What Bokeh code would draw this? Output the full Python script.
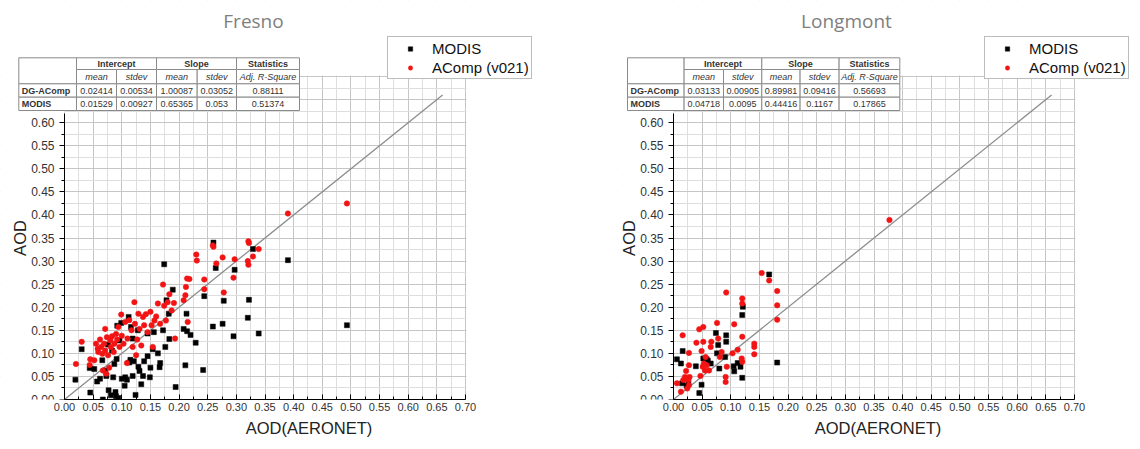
import math
from bokeh.plotting import figure
from bokeh.layouts import row
from bokeh.models import (Range1d, FixedTicker, PrintfTickFormatter, Label,
                          BoxAnnotation, Legend, LegendItem)
from bokeh.embed import file_html
from bokeh.resources import INLINE

# ---------------- data ----------------
titles = ["Fresno", "Longmont"]
x_label = "AOD(AERONET)"
y_label = "AOD"
series_names = ["MODIS", "AComp (v021)"]
one_to_one = [0.0, 0.66]

x_tick_values = [0.00, 0.05, 0.10, 0.15, 0.20, 0.25, 0.30, 0.35, 0.40, 0.45,
                 0.50, 0.55, 0.60, 0.65, 0.70]
x_minor_values = [0.025, 0.075, 0.125, 0.175, 0.225, 0.275, 0.325, 0.375,
                  0.425, 0.475, 0.525, 0.575, 0.625, 0.675]
y_tick_values = [0.00, 0.05, 0.10, 0.15, 0.20, 0.25, 0.30, 0.35, 0.40, 0.45,
                 0.50, 0.55, 0.60]
y_minor_values = [0.025, 0.075, 0.125, 0.175, 0.225, 0.275, 0.325, 0.375,
                  0.425, 0.475, 0.525, 0.575]

table_headers = ["Intercept", "Slope", "Statistics"]
table_subheaders = ["mean", "stdev", "mean", "stdev", "Adj. R-Square"]
table_row_names = ["DG-AComp", "MODIS"]
fresno_table = [["0.02414", "0.00534", "1.00087", "0.03052", "0.88111"],
                ["0.01529", "0.00927", "0.65365", "0.053", "0.51374"]]
longmont_table = [["0.03133", "0.00905", "0.89981", "0.09416", "0.56693"],
                  ["0.04718", "0.0095", "0.44416", "0.1167", "0.17865"]]

fresno_modis = [
    (0.019, 0.043), (0.030, 0.109), (0.045, 0.015), (0.044, 0.068), (0.052, 0.066),
    (0.057, 0.039), (0.062, 0.045), (0.067, 0.000), (0.066, 0.085), (0.071, 0.063),
    (0.073, 0.051), (0.077, 0.020), (0.081, 0.009), (0.083, 0.106), (0.085, 0.048),
    (0.089, 0.016), (0.090, 0.007), (0.094, 0.003), (0.091, 0.088), (0.092, 0.160),
    (0.099, 0.166), (0.100, 0.045), (0.105, 0.030), (0.106, 0.048), (0.109, 0.043),
    (0.112, 0.179), (0.113, 0.080), (0.115, 0.086), (0.119, 0.051), (0.121, 0.083),
    (0.124, 0.010), (0.129, 0.071), (0.131, 0.062), (0.134, 0.033), (0.137, 0.051),
    (0.139, 0.083), (0.145, 0.094), (0.149, 0.048), (0.150, 0.069), (0.156, 0.146),
    (0.154, 0.109), (0.163, 0.100), (0.166, 0.070), (0.167, 0.079), (0.172, 0.150),
    (0.174, 0.293), (0.176, 0.114), (0.178, 0.215), (0.182, 0.186), (0.183, 0.131),
    (0.189, 0.238), (0.194, 0.027), (0.208, 0.153), (0.211, 0.074), (0.213, 0.186),
    (0.214, 0.148), (0.220, 0.140), (0.229, 0.123), (0.242, 0.064), (0.244, 0.224),
    (0.259, 0.158), (0.260, 0.340), (0.264, 0.285), (0.276, 0.164), (0.278, 0.214),
    (0.295, 0.137), (0.297, 0.281), (0.320, 0.177), (0.322, 0.216), (0.329, 0.326),
    (0.339, 0.143), (0.390, 0.302), (0.493, 0.161), (0.076, 0.119), (0.087, 0.077),
    (0.096, 0.128), (0.119, 0.132), (0.128, 0.150), (0.145, 0.143), (0.116, 0.157),
]

fresno_acomp = [
    (0.020, 0.077), (0.030, 0.125), (0.044, 0.075), (0.045, 0.087), (0.052, 0.085),
    (0.055, 0.121), (0.058, 0.110), (0.059, 0.103), (0.062, 0.130), (0.064, 0.114),
    (0.066, 0.099), (0.067, 0.063), (0.069, 0.121), (0.071, 0.153), (0.071, 0.106),
    (0.073, 0.056), (0.074, 0.135), (0.076, 0.096), (0.078, 0.069), (0.080, 0.128),
    (0.081, 0.114), (0.083, 0.137), (0.086, 0.103), (0.087, 0.121), (0.090, 0.142),
    (0.092, 0.130), (0.094, 0.157), (0.096, 0.114), (0.099, 0.184), (0.100, 0.138),
    (0.103, 0.121), (0.106, 0.168), (0.109, 0.079), (0.110, 0.132), (0.113, 0.172),
    (0.117, 0.150), (0.119, 0.114), (0.122, 0.211), (0.123, 0.164), (0.125, 0.096),
    (0.127, 0.130), (0.129, 0.186), (0.131, 0.153), (0.134, 0.117), (0.137, 0.179),
    (0.139, 0.161), (0.142, 0.185), (0.145, 0.146), (0.150, 0.190), (0.152, 0.161),
    (0.154, 0.114), (0.157, 0.171), (0.160, 0.180), (0.163, 0.208), (0.167, 0.164),
    (0.172, 0.249), (0.174, 0.203), (0.177, 0.171), (0.180, 0.211), (0.183, 0.228),
    (0.187, 0.193), (0.191, 0.209), (0.193, 0.132), (0.208, 0.215), (0.211, 0.226),
    (0.212, 0.244), (0.214, 0.262), (0.218, 0.261), (0.215, 0.168), (0.230, 0.314),
    (0.231, 0.301), (0.244, 0.260), (0.244, 0.239), (0.259, 0.334), (0.260, 0.331),
    (0.265, 0.295), (0.276, 0.308), (0.278, 0.232), (0.295, 0.264), (0.297, 0.304),
    (0.320, 0.300), (0.321, 0.292), (0.321, 0.343), (0.322, 0.339), (0.329, 0.310),
    (0.339, 0.326), (0.390, 0.403), (0.493, 0.425),
]

longmont_modis = [
    (0.006, 0.087), (0.013, 0.078), (0.016, 0.105), (0.015, 0.035), (0.023, 0.030),
    (0.026, 0.035), (0.039, 0.072), (0.045, 0.014), (0.049, 0.032), (0.052, 0.089),
    (0.058, 0.087), (0.060, 0.084), (0.065, 0.078), (0.074, 0.144), (0.076, 0.100),
    (0.078, 0.118), (0.080, 0.067), (0.090, 0.092), (0.092, 0.139), (0.092, 0.125),
    (0.105, 0.072), (0.106, 0.061), (0.112, 0.079), (0.117, 0.071), (0.120, 0.183),
    (0.121, 0.201), (0.120, 0.047), (0.167, 0.271), (0.181, 0.080),
]

longmont_acomp = [
    (0.006, 0.035), (0.013, 0.017), (0.016, 0.139), (0.017, 0.042), (0.020, 0.049),
    (0.022, 0.062), (0.024, 0.024), (0.026, 0.042), (0.027, 0.101), (0.027, 0.074),
    (0.027, 0.031), (0.028, 0.049), (0.040, 0.123), (0.045, 0.152), (0.047, 0.051),
    (0.049, 0.105), (0.051, 0.071), (0.052, 0.157), (0.052, 0.125), (0.053, 0.078),
    (0.055, 0.063), (0.056, 0.092), (0.058, 0.074), (0.062, 0.063), (0.065, 0.114),
    (0.066, 0.125), (0.076, 0.166), (0.078, 0.132), (0.081, 0.092), (0.084, 0.103),
    (0.092, 0.232), (0.093, 0.071), (0.091, 0.049), (0.091, 0.038), (0.103, 0.100),
    (0.106, 0.163), (0.112, 0.108), (0.120, 0.219), (0.120, 0.208), (0.120, 0.136),
    (0.119, 0.089), (0.120, 0.082), (0.141, 0.121), (0.141, 0.114), (0.141, 0.098),
    (0.154, 0.274), (0.167, 0.258), (0.181, 0.235), (0.181, 0.204), (0.181, 0.173),
    (0.377, 0.389),
]

# ---------------- layout constants ----------------
AX_END = 0.70            # data extent of the plotting box
PX_X = 401 / AX_END      # pixels per data unit (x)
PX_Y = 323 / AX_END      # pixels per data unit (y)
ORIGIN_Y = 399           # px from figure top to y = 0
FONT = "Liberation Sans"
TXT = "#333333"


def dx(px):
    return px / PX_X


def dy(px):
    return px / PX_Y


def add_table(p, xe, ye, values):
    def cell(l, r, t, b):
        p.add_layout(BoxAnnotation(left=dx(l), right=dx(r), top=dy(t), bottom=dy(b),
                                   fill_color="white", fill_alpha=1.0,
                                   line_color="#8a8a8a", line_alpha=1.0, line_width=1,
                                   level="annotation"))

    def txt(x, y, s, style="normal", align="center"):
        p.add_layout(Label(x=dx(x), y=dy(y), text=s, text_align=align,
                           text_baseline="middle", text_font=FONT,
                           text_font_size="9px", text_font_style=style,
                           text_color=TXT))

    cell(xe[0], xe[1], ye[0], ye[2])
    spans = [(1, 3), (3, 5), (5, 6)]
    for (a, b), h in zip(spans, table_headers):
        cell(xe[a], xe[b], ye[0], ye[1])
        txt((xe[a] + xe[b]) / 2, (ye[0] + ye[1]) / 2, h, "bold")
    for i, s in enumerate(table_subheaders):
        cell(xe[i + 1], xe[i + 2], ye[1], ye[2])
        txt((xe[i + 1] + xe[i + 2]) / 2, (ye[1] + ye[2]) / 2, s, "italic")
    for r, (name, vals) in enumerate(zip(table_row_names, values)):
        t, b = ye[r + 2], ye[r + 3]
        cell(xe[0], xe[1], t, b)
        txt(xe[0] + 3, (t + b) / 2, name, "bold", "left")
        for i, v in enumerate(vals):
            cell(xe[i + 1], xe[i + 2], t, b)
            txt((xe[i + 1] + xe[i + 2]) / 2, (t + b) / 2, v)


def make_panel(title, title_x, modis, acomp, table_vals, xe, width, origin_x, legend_x):
    x0 = -dx(origin_x)
    x1 = dx(width - origin_x)
    y1 = dy(ORIGIN_Y)
    p = figure(frame_width=width, frame_height=ORIGIN_Y, title=None,
               output_backend="svg", toolbar_location=None,
               x_range=Range1d(x0, x1), y_range=Range1d(0, y1),
               min_border_left=0, min_border_right=0,
               min_border_top=0, min_border_bottom=48)
    p.outline_line_color = None
    p.background_fill_color = "white"
    p.border_fill_color = "white"

    xt = FixedTicker(ticks=x_tick_values, minor_ticks=x_minor_values)
    yt = FixedTicker(ticks=y_tick_values, minor_ticks=y_minor_values)
    for ax in (p.xaxis[0], p.yaxis[0]):
        ax.formatter = PrintfTickFormatter(format="%.2f")
        ax.axis_line_color = "black"
        ax.axis_line_width = 1
        ax.major_tick_line_color = "black"
        ax.minor_tick_line_color = "black"
        ax.major_label_text_font = FONT
        ax.major_label_text_color = TXT
        ax.axis_label_text_font = FONT
        ax.axis_label_text_font_style = "normal"
        ax.axis_label_text_font_size = "16.5px"
        ax.axis_label_text_color = "#222222"

    xa = p.xaxis[0]
    xa.ticker = xt
    xa.bounds = (0, AX_END)
    xa.axis_label = x_label
    xa.major_tick_in = 5
    xa.major_tick_out = 0
    xa.minor_tick_in = 3
    xa.minor_tick_out = 0
    xa.major_label_standoff = 3
    xa.axis_label_standoff = 5
    xa.major_label_text_font_size = "11px"

    ya = p.yaxis[0]
    ya.ticker = yt
    ya.fixed_location = 0
    ya.bounds = (0, 0.62)
    ya.major_tick_in = 0
    ya.major_tick_out = 5
    ya.minor_tick_in = 0
    ya.minor_tick_out = 3
    ya.major_label_standoff = 5
    ya.major_label_text_font_size = "12px"

    p.xgrid[0].ticker = FixedTicker(ticks=x_tick_values, minor_ticks=x_minor_values)
    p.ygrid[0].ticker = FixedTicker(ticks=x_tick_values, minor_ticks=x_minor_values)
    for g in (p.xgrid[0], p.ygrid[0]):
        g.grid_line_color = "#c6c6c6"
        g.grid_line_width = 1
        g.minor_grid_line_color = "#dedede"
        g.minor_grid_line_width = 1

    # white masks so the grid only covers the 0..0.70 box
    for l, r, b, t in [(x0, 0, 0, y1), (AX_END + dx(1), x1, 0, y1),
                       (x0, x1, AX_END + dy(1), y1)]:
        p.add_layout(BoxAnnotation(left=l, right=r, bottom=b, top=t,
                                   fill_color="white", fill_alpha=1.0,
                                   line_color=None, level="underlay"))

    p.line(one_to_one, one_to_one, line_color="#8c8c8c", line_width=1.3)

    r_m = p.scatter([q[0] for q in modis], [q[1] for q in modis], marker="square",
                    size=5, fill_color="black", line_color="black", line_width=0.5)
    r_a = p.scatter([q[0] for q in acomp], [q[1] for q in acomp], marker="circle",
                    size=5.5, fill_color="#f21414", line_color="#f21414", line_width=0.5)

    add_table(p, xe, [341.7, 330, 315.7, 302.3, 289], table_vals)

    legend = Legend(items=[LegendItem(label=series_names[0], renderers=[r_m]),
                           LegendItem(label=series_names[1], renderers=[r_a])],
                    location=(origin_x + legend_x, 320), orientation="vertical",
                    padding=2, spacing=1, margin=0,
                    glyph_width=40, glyph_height=11, label_height=18,
                    label_standoff=2, label_text_font=FONT,
                    label_text_font_size="15px", label_text_color="#111111",
                    border_line_color="#7a7a7a", border_line_width=1,
                    background_fill_color="white", background_fill_alpha=1.0)
    p.add_layout(legend)

    p.add_layout(Label(x=dx(title_x), y=dy(378.5), text=title, text_align="center",
                       text_baseline="middle", text_font="Open Sans",
                       text_font_size="19px", text_color="#7f7f7f"))
    p.add_layout(Label(x=dx(-45), y=AX_END / 2, text=y_label, angle=math.pi / 2,
                       text_align="center", text_baseline="middle", text_font=FONT,
                       text_font_size="16.5px", text_color="#222222"))
    return p


p1 = make_panel(titles[0], 189, fresno_modis, fresno_acomp, fresno_table,
                [-45.7, 12, 52, 92, 132.7, 172, 235], 617, 64, 323)
p2 = make_panel(titles[1], 173, longmont_modis, longmont_acomp, longmont_table,
                [-46, 10.6, 50, 88.3, 126.6, 165.6, 226.3], 521, 56, 311)

layout = row(p1, p2)
open("out.html", "w").write(file_html(layout, INLINE))
